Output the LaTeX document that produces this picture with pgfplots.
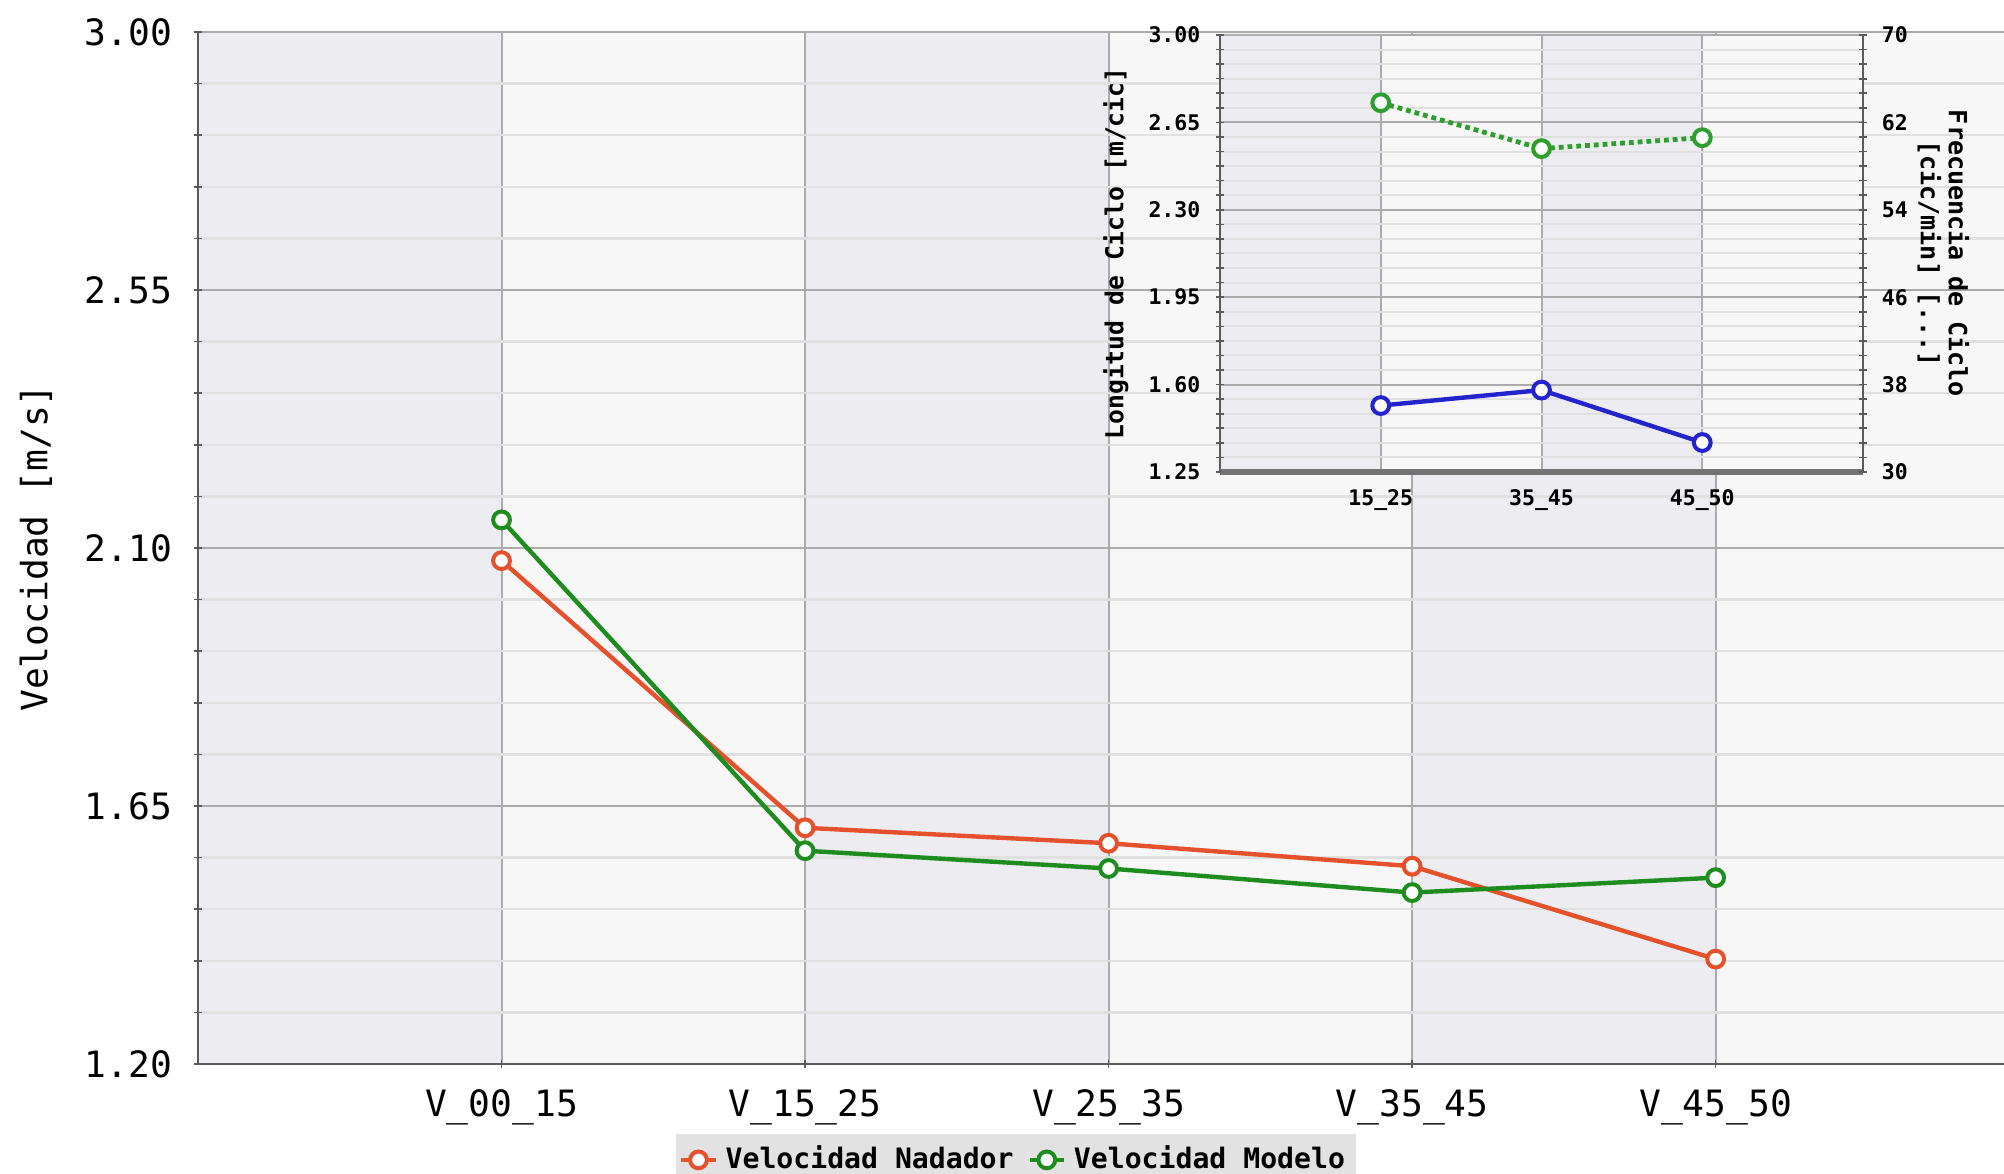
\documentclass[border=0pt]{standalone}
\usepackage{fontspec}
\setmainfont{DejaVu Sans Mono}
\usepackage{pgfplots}
\pgfplotsset{compat=1.18}
\definecolor{bandD}{HTML}{EDEDF1}
\definecolor{bandL}{HTML}{F7F7F7}
\definecolor{cRed}{HTML}{E5502D}
\definecolor{cGreen}{HTML}{1E8C1E}
\definecolor{cGreenL}{HTML}{2E9E2E}
\definecolor{cBlue}{HTML}{2424CC}
\definecolor{gMajor}{HTML}{ABABAB}
\definecolor{gMinor}{HTML}{E0E0E0}
\definecolor{axC}{HTML}{5A5A5A}
\definecolor{legBg}{HTML}{E2E2E2}

\pgfplotstableread{
x nad mod
0 2.078 2.149
1 1.612 1.572
2 1.585 1.541
3 1.545 1.499
4 1.383 1.525
}\vel
\pgfplotstableread{
x lon fre
0 1.516 63.8
1 1.578 59.6
2 1.368 60.6
}\cic

\begin{document}
\begin{tikzpicture}
% ---------- main background stripes
\begin{axis}[scale only axis, width=451.5bp, height=258bp,
  xmin=-1, xmax=4.95, ymin=1.2, ymax=3, hide axis]
\fill[bandD] (axis cs:-1,1.2) rectangle (axis cs:0,3);
\fill[bandL] (axis cs:0,1.2) rectangle (axis cs:1,3);
\fill[bandD] (axis cs:1,1.2) rectangle (axis cs:2,3);
\fill[bandL] (axis cs:2,1.2) rectangle (axis cs:3,3);
\fill[bandD] (axis cs:3,1.2) rectangle (axis cs:4,3);
\fill[bandL] (axis cs:4,1.2) rectangle (axis cs:4.95,3);
\end{axis}
% ---------- main axis
\begin{axis}[scale only axis, width=451.5bp, height=258bp,
  xmin=-1, xmax=4.95, ymin=1.2, ymax=3,
  axis x line*=bottom, axis y line*=left,
  axis line style={-, draw=axC, line width=0.7bp},
  xtick={0,1,2,3,4},
  xticklabels={V\_00\_15,V\_15\_25,V\_25\_35,V\_35\_45,V\_45\_50},
  ytick={1.2,1.65,2.1,2.55,3.0}, minor y tick num=4,
  yticklabel style={/pgf/number format/fixed, /pgf/number format/fixed zerofill, /pgf/number format/precision=2},
  /pgf/number format/assume math mode=true,
  tick label style={font=\fontsize{9.1}{11}\selectfont},
  xticklabel style={yshift=-2bp},
  yticklabel style={xshift=-2bp},
  xmajorgrids, ymajorgrids, yminorgrids,
  major grid style={gMajor, line width=0.5bp},
  minor grid style={gMinor, line width=0.6bp},
  tick align=center, major tick length=2bp, minor tick length=2bp,
  every tick/.style={axC, line width=0.4bp},
  ylabel={Velocidad [m/s]},
  ylabel style={font=\fontsize{9.1}{11}\selectfont, at={(axis description cs:-0.0897,0.5)}, anchor=center},
  legend style={at={(axis description cs:0.453,-0.1185)}, anchor=south,
    legend columns=2, fill=legBg, draw=none, inner sep=0.8bp,
    font=\fontsize{7.06}{8}\selectfont\bfseries,
    /tikz/every even column/.append style={column sep=1.5bp}},
  legend image code/.code={\draw[mark repeat=2,mark phase=2] plot coordinates {(0cm,0cm) (0.15cm,0cm) (0.3cm,0cm)};},
  ]
\addplot[cRed, line width=1.1bp, mark=*, mark size=2.1bp, mark options={fill=white, line width=1bp}] table[x=x, y=nad] {\vel};
\addlegendentry{Velocidad Nadador}
\addplot[cGreen, line width=1.1bp, mark=*, mark size=2.1bp, mark options={fill=white, line width=1bp}] table[x=x, y=mod] {\vel};
\addlegendentry{Velocidad Modelo}
\end{axis}
% ---------- inset background
\begin{axis}[at={(255.5bp,148bp)}, anchor=south west,
  scale only axis, width=160.75bp, height=109.25bp,
  xmin=-1, xmax=3, ymin=1.25, ymax=3, hide axis]
\fill[bandD] (axis cs:-1,1.25) rectangle (axis cs:0,3);
\fill[bandL] (axis cs:0,1.25) rectangle (axis cs:1,3);
\fill[bandD] (axis cs:1,1.25) rectangle (axis cs:2,3);
\fill[bandL] (axis cs:2,1.25) rectangle (axis cs:3,3);
\end{axis}
% ---------- inset left axis
\begin{axis}[at={(255.5bp,148bp)}, anchor=south west,
  scale only axis, width=160.75bp, height=109.25bp,
  xmin=-1, xmax=3, ymin=1.25, ymax=3,
  axis x line*=bottom, axis y line*=left,
  axis line style={-},
  x axis line style={draw=black!55, line width=1.3bp},
  y axis line style={draw=axC, line width=0.7bp},
  xtick={0,1,2}, xticklabels={15\_25,35\_45,45\_50},
  xtick style={draw=none},
  ytick={1.25,1.6,1.95,2.3,2.65,3.0}, minor y tick num=5,
  yticklabel style={/pgf/number format/fixed, /pgf/number format/fixed zerofill, /pgf/number format/precision=2},
  /pgf/number format/assume math mode=true,
  tick label style={font=\fontsize{5.4}{6}\selectfont\bfseries},
  xticklabel style={yshift=0bp},
  yticklabel style={xshift=-0.5bp},
  xmajorgrids, ymajorgrids, yminorgrids,
  major grid style={gMajor, line width=0.5bp},
  minor grid style={gMinor, line width=0.5bp},
  tick align=center, major tick length=1.8bp, minor tick length=1.8bp,
  every tick/.style={axC, line width=0.4bp},
  ylabel={Longitud de Ciclo [m/cic]},
  ylabel style={font=\fontsize{6.2}{7}\selectfont\bfseries, at={(axis description cs:-0.162,0.5)}, anchor=center},
  ]
\addplot[cBlue, line width=1.1bp, mark=*, mark size=2.1bp, mark options={fill=white, line width=1bp}] table[x=x, y=lon] {\cic};
\end{axis}
% ---------- inset right axis
\begin{axis}[at={(255.5bp,148bp)}, anchor=south west,
  scale only axis, width=160.75bp, height=109.25bp,
  xmin=-1, xmax=3, ymin=30, ymax=70,
  axis x line=none, axis y line*=right,
  axis line style={-, draw=axC, line width=0.7bp},
  ytick={30,38,46,54,62,70}, minor y tick num=5,
  /pgf/number format/assume math mode=true,
  tick label style={font=\fontsize{5.4}{6}\selectfont\bfseries},
  yticklabel style={xshift=0.3bp},
  tick align=center, major tick length=1.8bp, minor tick length=1.8bp,
  every tick/.style={axC, line width=0.4bp},
  ylabel={Frecuencia de Ciclo\\{}[cic/min] [...]},
  ylabel style={font=\fontsize{6.3}{7}\selectfont\bfseries, align=center, rotate=180,
    at={(axis description cs:1.125,0.5)}, anchor=center},
  ]
\addplot[cGreenL, line width=1.2bp, densely dotted, mark=*, mark size=2.1bp, mark options={solid, fill=white, line width=1bp}] table[x=x, y=fre] {\cic};
\end{axis}
\pgfresetboundingbox
\path (-49.5bp,-27.5bp) rectangle (451.5bp,266bp);
\end{tikzpicture}
\end{document}
